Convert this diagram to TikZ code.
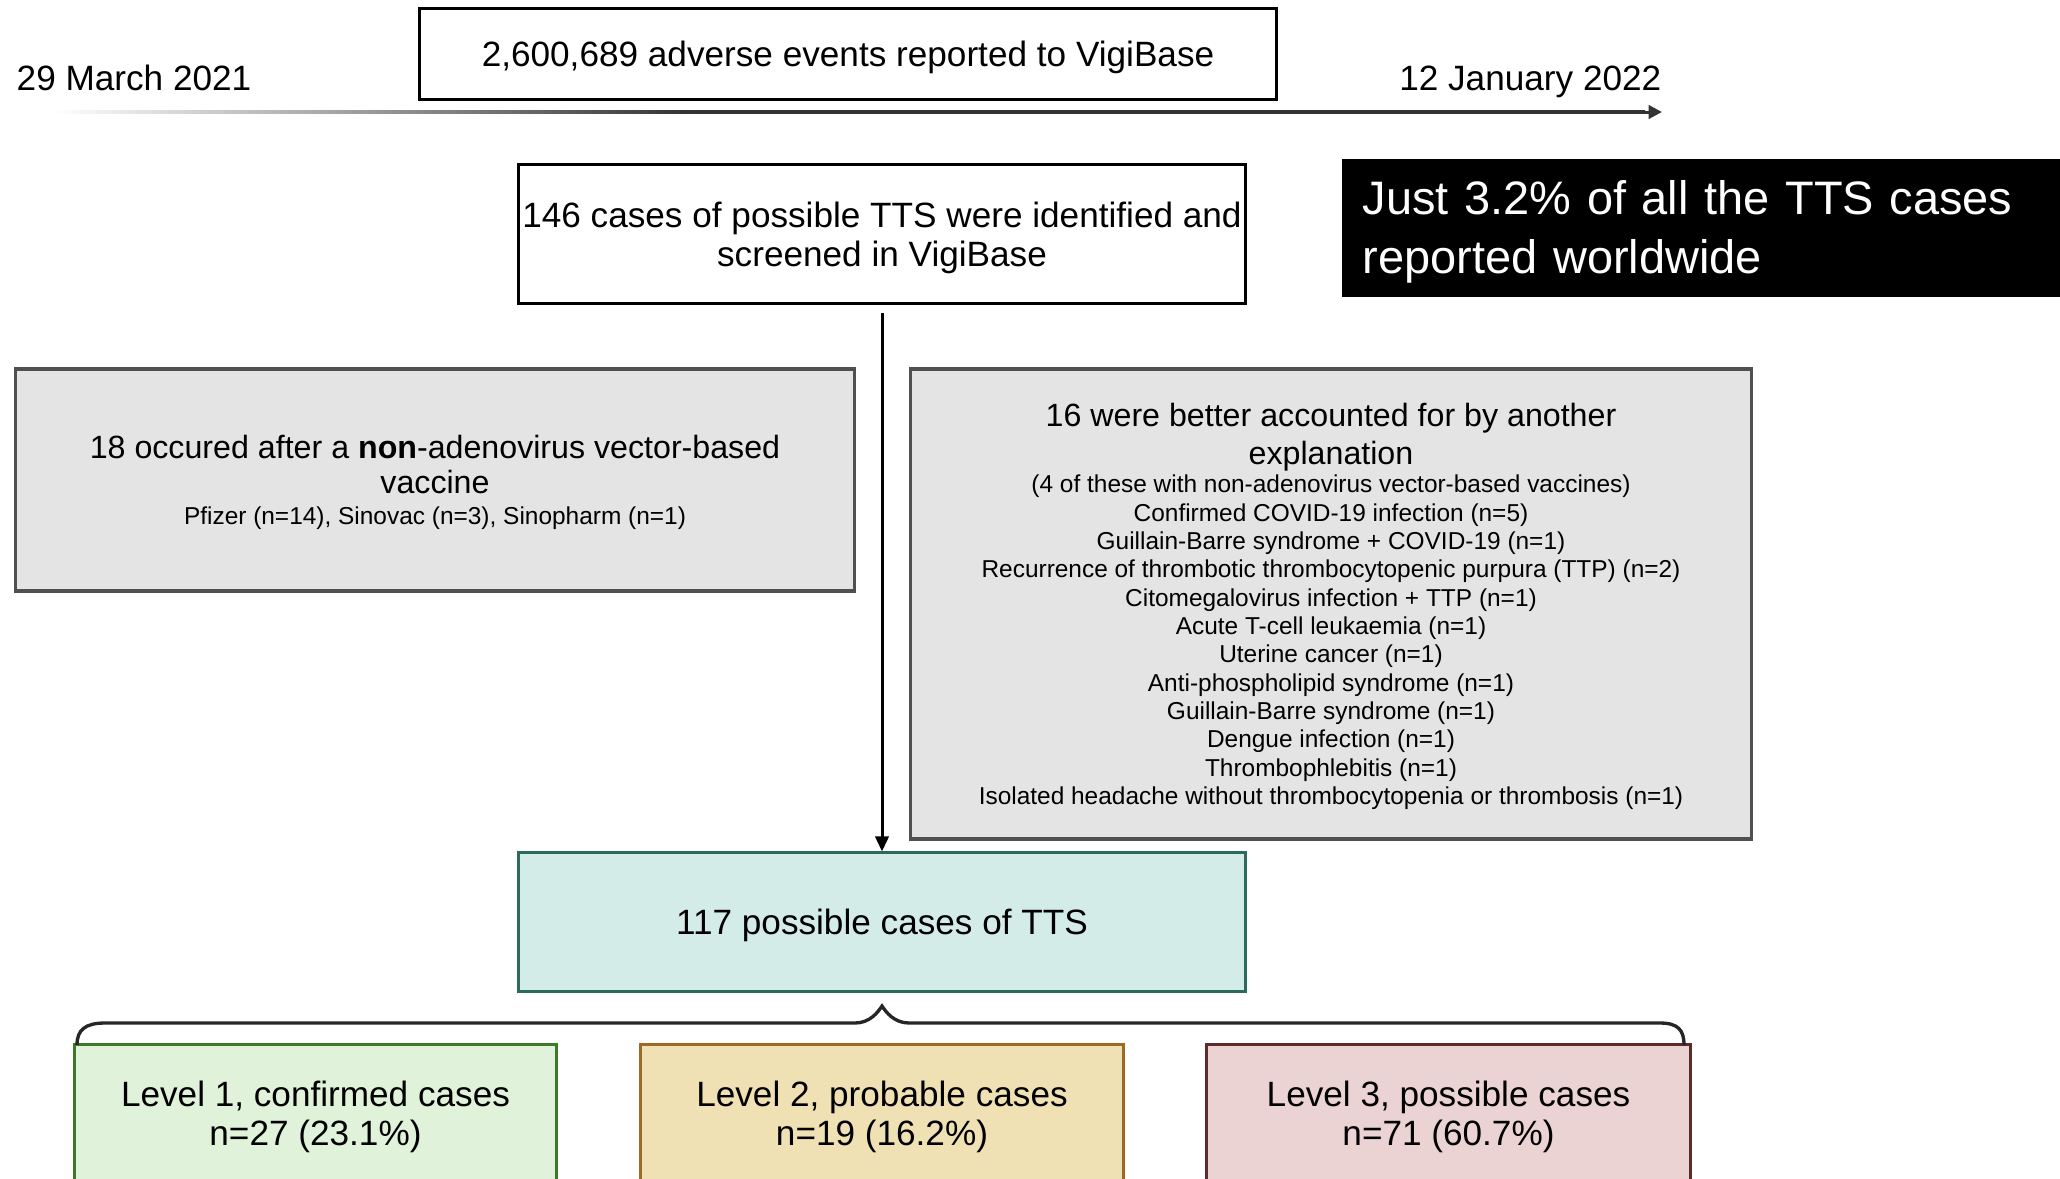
\documentclass[tikz,border=0pt]{standalone}
\usepackage{fontspec}
\setmainfont{Liberation Sans}
\usetikzlibrary{arrows.meta,positioning}

\definecolor{boxgray}{HTML}{E4E4E4}
\definecolor{edgegray}{HTML}{505050}
\definecolor{tealfill}{HTML}{D4ECE8}
\definecolor{tealedge}{HTML}{2C6A5C}
\definecolor{greenfill}{HTML}{E0F2D9}
\definecolor{greenedge}{HTML}{3C7A2A}
\definecolor{sandfill}{HTML}{F0E1B5}
\definecolor{sandedge}{HTML}{9C6A24}
\definecolor{rosefill}{HTML}{ECD3D3}
\definecolor{roseedge}{HTML}{5E2B2B}

\pgfdeclarehorizontalshading{timefade}{100bp}{color(0bp)=(white); color(25bp)=(white);
  color(45bp)=(black!80); color(100bp)=(black!80)}

\newcommand{\headsize}{\fontsize{9.15}{10.5}\selectfont}

\begin{document}
\begin{tikzpicture}[x=0.01cm, y=-0.01cm,
  bigtext/.style={font=\fontsize{10}{11.2}\selectfont},
  smalltext/.style={font=\fontsize{6.95}{8.05}\selectfont},
  plainbox/.style={draw=black, line width=0.85pt, fill=white, align=center, inner sep=0pt,
    text depth=0pt, bigtext},
  greybox/.style={draw=edgegray, line width=0.95pt, fill=boxgray, align=center, inner sep=0pt,
    text depth=0pt, smalltext},
  levelbox/.style={line width=0.85pt, align=center, inner sep=0pt, text depth=0pt,
    minimum height=1.36cm, bigtext},
  flowarrow/.style={line width=0.85pt, -{Triangle[length=4.3pt,width=3.8pt]}},
  bracket/.style={line width=0.95pt, black!85}]
\useasboundingbox (0,0) rectangle (2060,1178);

% timeline
\node[bigtext, inner sep=0pt, anchor=base west] (start) at (16,90) {29 March 2021};
\node[bigtext, inner sep=0pt, anchor=base east] (stop) at (1662,90) {12 January 2022};
\node[plainbox, minimum width=8.56cm, minimum height=0.9cm] (events) at (848,54)
  {2,600,689 adverse events reported to VigiBase};
\coordinate (tl0) at (53,112);
\coordinate (tlmid) at (1640,112);
\coordinate (tl1) at (1662,112);
\shade[shading=timefade] (53,110.5) rectangle (1645,113.5);
\draw[line width=0.85pt, black!80, -{Triangle[length=3.8pt,width=3.8pt]}] (tlmid) -- (tl1);

% note
\node[fill=black, text=white, anchor=north west, align=left, inner xsep=0.21cm,
  inner ysep=0pt, minimum width=7.19cm, minimum height=1.38cm, text width=6.77cm,
  font=\fontsize{13.35}{16.8}\selectfont] (note) at (1341,158)
  {\rule{0pt}{12pt}Just 3.2\% of all the TTS cases\\reported worldwide};

% screening
\node[plainbox, minimum width=7.26cm, minimum height=1.39cm] (screened) at (882,234)
  {146 cases of possible TTS were identified and\\screened in VigiBase};

\node[greybox, minimum width=8.38cm, minimum height=2.22cm] (nonadeno) at (435,480)
  {\headsize 18 occured after a \textbf{non}-adenovirus vector-based\\[1.9pt]
   \headsize vaccine\\[0.7pt]
   Pfizer (n=14), Sinovac (n=3), Sinopharm (n=1)};

\node[greybox, minimum width=8.41cm, minimum height=4.7cm] (otherexpl) at (1331,604)
  {\headsize 16 were better accounted for by another\\[1.1pt]
   \headsize explanation\\[0.1pt]
   (4 of these with non-adenovirus vector-based vaccines)\\
   Confirmed COVID-19 infection (n=5)\\
   Guillain-Barre syndrome + COVID-19 (n=1)\\
   Recurrence of thrombotic thrombocytopenic purpura (TTP) (n=2)\\
   Citomegalovirus infection + TTP (n=1)\\
   Acute T-cell leukaemia (n=1)\\
   Uterine cancer (n=1)\\
   Anti-phospholipid syndrome (n=1)\\
   Guillain-Barre syndrome (n=1)\\
   Dengue infection (n=1)\\
   Thrombophlebitis (n=1)\\
   Isolated headache without thrombocytopenia or thrombosis (n=1)};

\node[levelbox, draw=tealedge, fill=tealfill, minimum width=7.26cm, minimum height=1.38cm]
  (possible) at (882,922) {117 possible cases of TTS};

\draw[flowarrow, shorten <=0.08cm] (screened.south) -- (possible.north);

% levels
\node[levelbox, draw=greenedge, fill=greenfill, minimum width=4.81cm] (lvlone) at (315.5,1113)
  {Level 1, confirmed cases\\n=27 (23.1\%)};
\node[levelbox, draw=sandedge, fill=sandfill, minimum width=4.82cm] (lvltwo) at (882,1113)
  {Level 2, probable cases\\n=19 (16.2\%)};
\node[levelbox, draw=roseedge, fill=rosefill, minimum width=4.83cm] (lvlthree) at (1448.5,1113)
  {Level 3, possible cases\\n=71 (60.7\%)};

\draw[bracket] (77,1045) .. controls (77,1030) and (85,1023) .. (105,1023)
  -- (855,1023) .. controls (870,1023) and (878,1012) .. (882,1006)
  .. controls (886,1012) and (894,1023) .. (909,1023)
  -- (1660,1023) .. controls (1678,1023) and (1684,1030) .. (1684,1045);
\end{tikzpicture}
\end{document}
